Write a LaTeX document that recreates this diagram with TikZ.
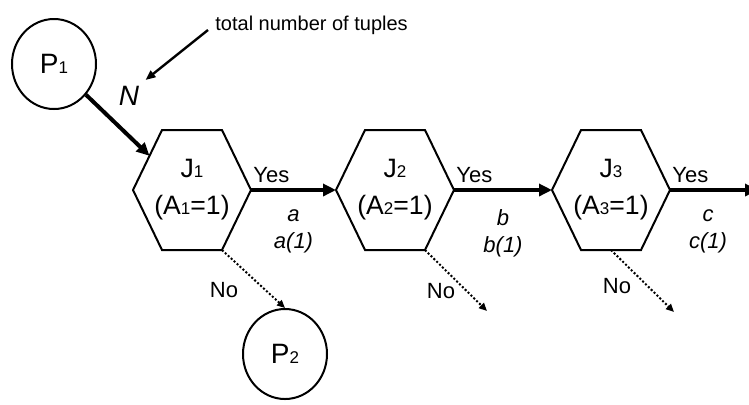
\documentclass[tikz,border=0pt]{standalone}
\usepackage{fontspec}
\setmainfont{Liberation Sans}
\usetikzlibrary{arrows.meta,positioning,shapes.geometric,calc}
\newcommand{\ix}[1]{{\fontsize{8.5}{10}\selectfont#1}}
\newcommand{\joinhex}[1]{\coordinate (#1-nw) at ($(#1.north west)+(29,0)$);\coordinate (#1-ne) at ($(#1.north east)+(-29,0)$);\coordinate (#1-se) at ($(#1.south east)+(-29,0)$);\coordinate (#1-sw) at ($(#1.south west)+(29,0)$);\draw[hexline] (#1.west) -- (#1-nw) -- (#1-ne) -- (#1.east) -- (#1-se) -- (#1-sw) -- cycle;}
\tikzset{procnode/.style={draw, ellipse, line width=1pt, minimum width=42pt, minimum height=45pt, inner sep=0pt, font=\fontsize{14}{16}\selectfont}}
\tikzset{joinnode/.style={minimum width=59pt, minimum height=60pt, inner sep=0pt, outer sep=0pt, align=center, font=\fontsize{13.3}{18.5}\selectfont}}
\tikzset{hexline/.style={line width=1pt, line join=miter}}
\tikzset{yesarrow/.style={-{Triangle[length=6.5pt,width=6pt]}, line width=2pt}}
\tikzset{noarrow/.style={-{Triangle[length=4pt,width=3.5pt]}, line width=1pt, dash pattern=on 1pt off 1pt}}
\tikzset{notearrow/.style={-{Triangle[length=5pt,width=4pt]}, line width=1.2pt}}
\tikzset{lbl/.style={font=\fontsize{11}{13}\selectfont, inner sep=0pt}}
\tikzset{flowlbl/.style={font=\fontsize{11}{13.5}\selectfont\itshape, align=center, inner sep=0pt}}

\begin{document}
\begin{tikzpicture}[x=0.5pt, y=-0.5pt]
\path[use as bounding box] (0,0) rectangle (749,404);
\clip (0,0) rectangle (749,404);
\node[procnode] (p1) at (54,64) {P\ix1};
\node[joinnode] (j1) at (192,190) {J\ix1\\(A\ix1=1)};
\node[joinnode, right=42.5pt of j1] (j2) {J\ix2\\(A\ix2=1)};
\node[joinnode, right=49pt of j2] (j3) {J\ix3\\(A\ix3=1)};
\joinhex{j1}
\joinhex{j2}
\joinhex{j3}
\node[procnode] (p2) at (285,354) {P\ix2};
\node[font=\fontsize{10}{12}\selectfont, anchor=west, inner sep=3.5pt] (tuples) at (208,25) {total number of tuples};
\node[font=\fontsize{14}{16}\selectfont\itshape, inner sep=3pt] (nlbl) at (129,96) {N};
\coordinate (j1-in) at ($(j1.west)!0.57!(j1-nw)$);
\coordinate (j3-out) at ($(j3.east)+(88,0)$);
\coordinate (j2-no) at ($(j2-se)+(62,61)$);
\coordinate (j3-no) at ($(j3.south)+(63,62)$);
\draw[notearrow] ([yshift=-2.5pt]tuples.west) -- (nlbl.north east);
\draw[yesarrow] (p1) -- (j1-in);
\draw[yesarrow] (j1.east) -- node[flowlbl, below=9pt] (flow1) {a\\a(1)} (j2.west);
\draw[yesarrow] (j2.east) -- node[flowlbl, below=9pt] (flow2) {b\\b(1)} (j3.west);
\draw[yesarrow] (j3.east) -- node[flowlbl, below=9pt, xshift=-3pt] (flow3) {c\\c(1)} (j3-out);
\node[lbl, anchor=base west] (yes1) at ([shift={(1pt,4pt)}]j1.east) {Yes};
\node[lbl, anchor=base west] (yes2) at ([shift={(1pt,4pt)}]j2.east) {Yes};
\node[lbl, anchor=base west] (yes3) at ([shift={(1pt,4pt)}]j3.east) {Yes};
\draw[noarrow] (j1-se) -- (p2.north);
\draw[noarrow] (j2-se) -- (j2-no);
\draw[noarrow] (j3.south) -- (j3-no);
\node[lbl] (no1) at ($(j1-se)+(2,40)$) {No};
\node[lbl] (no2) at ($(j2-se)+(16,41)$) {No};
\node[lbl] (no3) at ($(j3.south)+(6,36)$) {No};
\end{tikzpicture}
\end{document}
